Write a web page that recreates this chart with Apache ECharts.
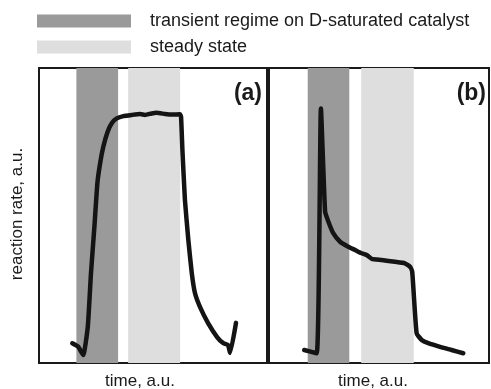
<!DOCTYPE html>
<html>
<head>
<meta charset="utf-8">
<script src="https://cdn.jsdelivr.net/npm/echarts@6/dist/echarts.min.js"></script>
<style>html,body{margin:0;padding:0;background:#fff;}#c{width:491px;height:389px;}</style>
</head>
<body>
<div id="c"></div>
<script>
// Legend / band names
var bandNames = ['transient regime on D-saturated catalyst', 'steady state'];
// Band extents on time axis (a.u., 0-100 per panel)
var bandsA = { transient: [16.4, 34.7], steady: [39.1, 61.9] };
var bandsB = { transient: [17.6, 36.5], steady: [41.9, 65.8] };
// Panel (a): time, reaction rate
var timeA = [14.6, 17.2, 19.4, 21.4, 22.8, 24.3, 25.6, 26.8, 28.2, 30.1, 31.9, 34.1, 37.0, 40.7, 44.3, 46.5, 49.4, 51.6, 55.3, 58.2, 61.8, 62.3, 62.9, 64.0, 65.5, 67.0, 68.4, 70.6, 74.1, 78.1, 80.7, 82.9, 83.8, 86.4];
var rateA = [6.7, 5.5, 2.7, 12.3, 30.5, 46.2, 60.9, 67.7, 73.3, 78.4, 81.3, 82.9, 83.7, 84.1, 84.4, 84.1, 84.6, 84.8, 84.4, 84.2, 84.3, 83.5, 72.2, 55.3, 41.7, 30.5, 23.7, 19.0, 13.6, 8.8, 6.8, 6.1, 3.4, 13.6];
// Panel (b): time, reaction rate
var timeB = [16.0, 21.7, 23.6, 25.5, 27.0, 29.2, 32.3, 36.0, 39.1, 42.1, 44.4, 46.7, 51.2, 57.3, 61.8, 64.1, 65.1, 67.1, 69.4, 72.4, 78.5, 83.0, 88.3];
var rateB = [4.4, 3.3, 86.3, 51.3, 47.9, 44.0, 41.1, 39.4, 38.3, 37.2, 36.6, 35.3, 34.9, 34.3, 33.8, 32.6, 30.9, 10.1, 7.8, 6.7, 5.3, 4.4, 3.3];
var panelLabels = ['(a)', '(b)'];
var xAxisLabel = 'time, a.u.';
var yAxisLabel = 'reaction rate, a.u.';

function zip(xs, ys) { return xs.map(function (x, i) { return [x, ys[i]]; }); }

var darkGray = '#9a9a9a', lightGray = '#dedede', ink = '#141414';
var font = 'Liberation Sans, Arial, Helvetica, sans-serif';

function bandSeries(name, color, range, idx) {
  return {
    name: name, type: 'line', data: [], xAxisIndex: idx, yAxisIndex: idx,
    itemStyle: { color: color }, lineStyle: { color: color }, z: 1,
    markArea: { silent: true, itemStyle: { color: color, opacity: 1 },
      data: [[{ xAxis: range[0] }, { xAxis: range[1] }]] }
  };
}
function curve(data, idx) {
  return {
    name: 'rate' + idx, type: 'line', data: data, xAxisIndex: idx, yAxisIndex: idx,
    showSymbol: false, symbol: 'none', z: 5, silent: true, smooth: 0.15,
    lineStyle: { color: ink, width: 4.5, join: 'round', cap: 'round' }
  };
}
var axisCommon = { type: 'value', min: 0, max: 100, axisLine: { show: false }, axisTick: { show: false }, axisLabel: { show: false }, splitLine: { show: false } };

var chart = echarts.init(document.getElementById('c'), null, { renderer: 'canvas' });
chart.setOption({
  animation: false,
  backgroundColor: '#fff',
  legend: {
    data: bandNames, orient: 'vertical', left: 37, top: 12, padding: 0,
    icon: 'rect', itemWidth: 94, itemHeight: 13, itemGap: 8, selectedMode: false,
    textStyle: { fontFamily: font, fontSize: 18, color: '#1a1a1a', padding: [0, 0, 0, 14] }
  },
  grid: [
    { left: 39, top: 68, width: 228, height: 295, show: true, borderColor: '#1a1a1a', borderWidth: 2, backgroundColor: 'transparent' },
    { left: 269, top: 68, width: 220, height: 295, show: true, borderColor: '#1a1a1a', borderWidth: 2, backgroundColor: 'transparent' }
  ],
  xAxis: [Object.assign({ gridIndex: 0 }, axisCommon), Object.assign({ gridIndex: 1 }, axisCommon)],
  yAxis: [Object.assign({ gridIndex: 0 }, axisCommon), Object.assign({ gridIndex: 1 }, axisCommon)],
  series: [
    bandSeries(bandNames[0], darkGray, bandsA.transient, 0),
    bandSeries(bandNames[1], lightGray, bandsA.steady, 0),
    bandSeries(bandNames[0], darkGray, bandsB.transient, 1),
    bandSeries(bandNames[1], lightGray, bandsB.steady, 1),
    curve(zip(timeA, rateA), 0),
    curve(zip(timeB, rateB), 1)
  ],
  graphic: [
    { type: 'text', x: 262, y: 94, z: 10, style: { text: panelLabels[0], fontFamily: font, fontSize: 23, fontWeight: 'bold', fill: '#1a1a1a', align: 'right', verticalAlign: 'middle' } },
    { type: 'text', x: 486, y: 94, z: 10, style: { text: panelLabels[1], fontFamily: font, fontSize: 23, fontWeight: 'bold', fill: '#1a1a1a', align: 'right', verticalAlign: 'middle' } },
    { type: 'text', x: 140, y: 381, style: { text: xAxisLabel, fontFamily: font, fontSize: 17, fill: '#1a1a1a', align: 'center', verticalAlign: 'middle' } },
    { type: 'text', x: 373, y: 381, style: { text: xAxisLabel, fontFamily: font, fontSize: 17, fill: '#1a1a1a', align: 'center', verticalAlign: 'middle' } },
    { type: 'text', x: 17, y: 214, rotation: Math.PI / 2, style: { text: yAxisLabel, fontFamily: font, fontSize: 17, fill: '#1a1a1a', align: 'center', verticalAlign: 'middle' } }
  ]
});
</script>
</body>
</html>
